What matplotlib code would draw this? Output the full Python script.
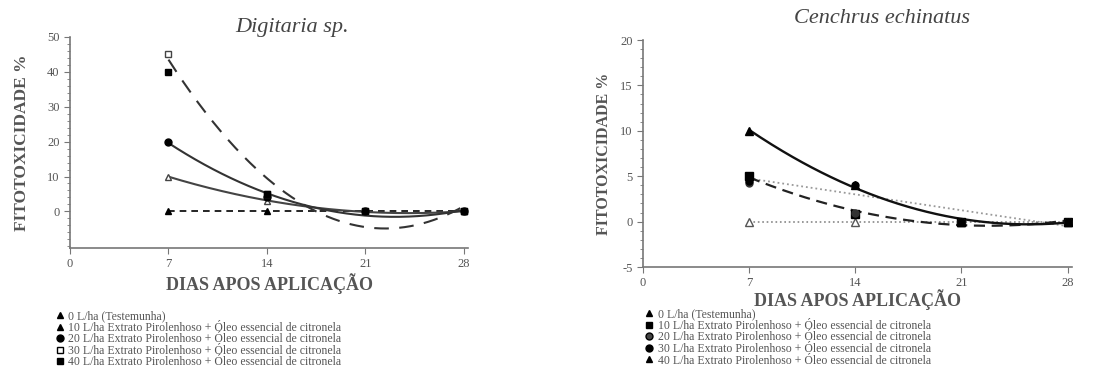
import matplotlib
matplotlib.use("Agg")
import matplotlib.pyplot as plt
import numpy as np
from matplotlib.lines import Line2D
from matplotlib.ticker import MultipleLocator

plt.rcParams["font.family"] = ["Liberation Serif", "DejaVu Serif"]
plt.rcParams["axes.unicode_minus"] = False

dias = [7, 14, 21, 28]
x_ticks = [0, 7, 14, 21, 28]

rotulos = [
    "0 L/ha (Testemunha)",
    "10 L/ha Extrato Pirolenhoso + Óleo essencial de citronela",
    "20 L/ha Extrato Pirolenhoso + Óleo essencial de citronela",
    "30 L/ha Extrato Pirolenhoso + Óleo essencial de citronela",
    "40 L/ha Extrato Pirolenhoso + Óleo essencial de citronela",
]

# Digitaria sp.
dig_0 = [0, 0, 0, 0]
dig_10 = [10, 3, 0, 0]
dig_20 = [20, 4, 0, 0]
dig_30 = [45, 5, 0, 0]
dig_40 = [40, 5, 0, 0]

# Cenchrus echinatus
cen_0 = [0, 0, 0, 0]
cen_10 = [5, 0.8, 0, 0]
cen_20 = [4.3, 1, 0, 0]
cen_30 = [4.5, 4, 0, 0]
cen_40 = [10, 4, 0, 0]

fig = plt.figure(figsize=(11.15, 3.81), dpi=100)
ax1 = fig.add_axes([0.0628, 0.349, 0.357, 0.554])
ax2 = fig.add_axes([0.5767, 0.2992, 0.3848, 0.5958])

xx = np.linspace(7, 28, 200)


def ajuste(ax, y, grau, **kw):
    p = np.polyfit(dias, y, grau)
    ax.plot(xx, np.polyval(p, xx), **kw)


def estilo(ax, ylim, major, minor, ysize, ypad, xpad):
    ax.set_xlim(0, 28.3)
    ax.set_ylim(*ylim)
    ax.set_xticks(x_ticks)
    ax.yaxis.set_major_locator(MultipleLocator(major))
    ax.yaxis.set_minor_locator(MultipleLocator(minor))
    for s in ["top", "right"]:
        ax.spines[s].set_visible(False)
    for s in ["left", "bottom"]:
        ax.spines[s].set_color("#777777")
        ax.spines[s].set_linewidth(1.2)
    ax.tick_params(axis="both", which="major", length=4, color="#777777",
                   labelsize=9, labelcolor="#555555")
    ax.tick_params(axis="y", which="minor", length=2, color="#777777")
    ax.set_xlabel("DIAS APOS APLICAÇÃO", fontsize=13, fontweight="bold",
                  color="#555555", labelpad=xpad)
    ax.set_ylabel("FITOTOXICIDADE %", fontsize=ysize, fontweight="bold",
                  color="#555555", labelpad=ypad)


# ---- Digitaria sp.
ax1.plot(dias, dig_0, color="black", ls=(0, (4, 3)), lw=1.2)
ajuste(ax1, dig_10, 2, color="#444444", lw=1.5)
ajuste(ax1, dig_20, 2, color="#333333", lw=1.5)
ajuste(ax1, dig_30, 2, color="#333333", lw=1.5, ls=(0, (7, 5)))
ax1.plot(dias, dig_0, ls="none", marker="^", color="black", ms=5)
ax1.plot(dias, dig_10, ls="none", marker="^", mfc="white", mec="#444444", ms=5)
ax1.plot(dias, dig_20, ls="none", marker="o", color="black", ms=5)
ax1.plot(dias, dig_30, ls="none", marker="s", mfc="white", mec="#444444", ms=5)
ax1.plot(dias, dig_40, ls="none", marker="s", color="black", ms=5)
estilo(ax1, (-10.5, 50), 10, 2, 12.5, 12, 2)
ax1.set_yticks([0, 10, 20, 30, 40, 50])
ax1.set_title("Digitaria sp.", style="italic", fontsize=16, color="#444444",
              x=0.558, pad=2)

# ---- Cenchrus echinatus
ax2.plot(dias, cen_0, color="#888888", ls=":", lw=1.2)
ajuste(ax2, cen_30, 1, color="#999999", ls=":", lw=1.3)
ajuste(ax2, cen_10, 2, color="#222222", ls=(0, (5, 3)), lw=1.6)
ajuste(ax2, cen_40, 2, color="#111111", lw=1.7)
ax2.plot(dias, cen_0, ls="none", marker="^", mfc="white", mec="#555555", ms=6)
ax2.plot(dias, cen_10, ls="none", marker="s", color="black", ms=6)
ax2.plot(dias, cen_20, ls="none", marker="o", color="#333333", ms=5)
ax2.plot(dias, cen_30, ls="none", marker="o", color="black", ms=5)
ax2.plot(dias, cen_40, ls="none", marker="^", color="black", ms=6)
estilo(ax2, (-5, 20), 5, 1, 11.5, 6, 0)
ax2.set_title("Cenchrus echinatus", style="italic", fontsize=16, color="#444444",
              x=0.557, pad=12)

# legendas
marc1 = [("^", "black"), ("^", "black"), ("o", "black"), ("s", "white"), ("s", "black")]
marc2 = [("^", "black"), ("s", "black"), ("o", "#444444"), ("o", "black"), ("^", "black")]


def legenda(marcs, pos):
    h = [Line2D([], [], ls="none", marker=m, mfc=c, mec="black", ms=5) for m, c in marcs]
    fig.legend(h, rotulos, loc="upper left", bbox_to_anchor=pos, frameon=False,
               fontsize=8.5, labelspacing=-0.04, handlelength=0.6, handletextpad=0.4,
               borderpad=0, labelcolor="#555555")


legenda(marc1, (0.045, 0.201))
legenda(marc2, (0.574, 0.206))

fig.savefig("out.png", dpi=100)
